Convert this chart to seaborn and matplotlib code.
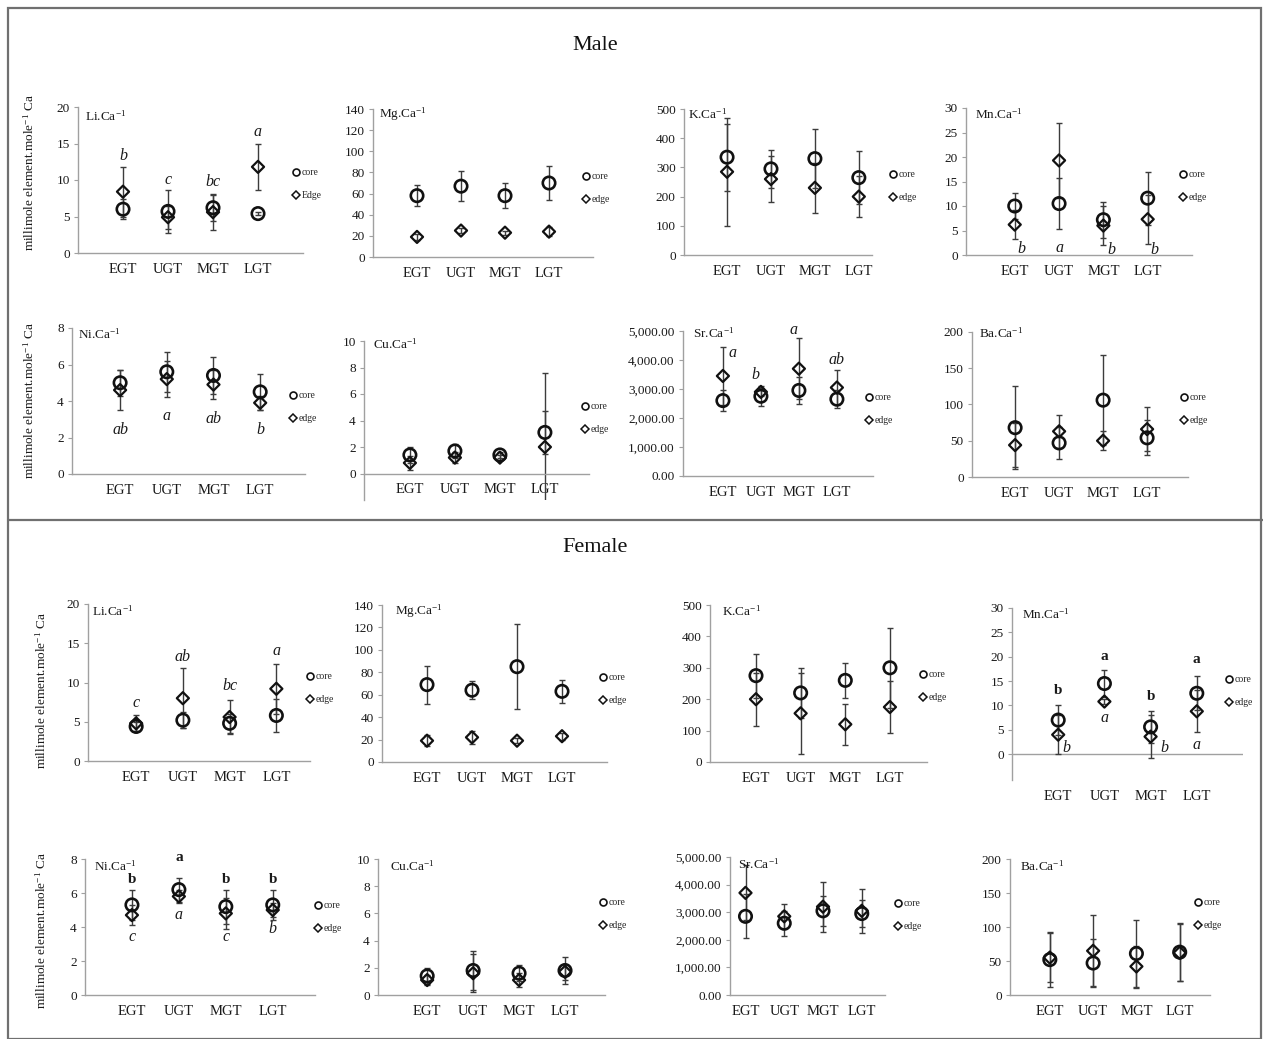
import numpy as np
import pandas as pd
import matplotlib
matplotlib.use("Agg")
import matplotlib.pyplot as plt
import seaborn as sns
from matplotlib.lines import Line2D
from matplotlib.patches import Rectangle
from matplotlib.ticker import FuncFormatter

sns.set_theme(style="white")
plt.rcParams["font.family"] = ["Liberation Serif", "DejaVu Serif"]
plt.rcParams["mathtext.fontset"] = "stix"

categories = ["EGT", "UGT", "MGT", "LGT"]

# ---------------- Male ----------------
m_li_core = [6.0, 5.7, 6.2, 5.4]; m_li_core_err = [1.4, 2.9, 1.8, 0.2]
m_li_edge = [8.4, 4.9, 5.6, 11.8]; m_li_edge_err = [3.4, 1.6, 2.5, 3.2]
m_li_letters = ["b", "c", "bc", "a"]; m_li_letter_y = [13.3, 10.0, 9.7, 16.6]

m_mg_core = [58, 67, 58, 70]; m_mg_core_err = [10, 14, 12, 16]
m_mg_edge = [19, 25, 23, 24]; m_mg_edge_err = [3, 2, 2, 4]

m_k_core = [335, 295, 330, 265]; m_k_core_err = [115, 65, 100, 90]
m_k_edge = [285, 260, 230, 200]; m_k_edge_err = [185, 80, 85, 70]

m_mn_core = [10.0, 10.5, 7.2, 11.6]; m_mn_core_err = [2.7, 5.2, 3.7, 5.4]
m_mn_edge = [6.2, 19.3, 6.0, 7.3]; m_mn_edge_err = [2.9, 7.7, 4.0, 5.0]
m_mn_letters = ["b", "a", "b", "b"]; m_mn_letter_y = [1.3, 1.4, 1.0, 1.0]
m_mn_letter_dx = [0.15, 0.0, 0.18, 0.16]

m_ni_core = [5.0, 5.6, 5.4, 4.5]; m_ni_core_err = [0.7, 1.1, 1.0, 1.0]
m_ni_edge = [4.6, 5.2, 4.9, 3.9]; m_ni_edge_err = [1.1, 1.0, 0.8, 0.4]
m_ni_letters = ["ab", "a", "ab", "b"]; m_ni_letter_y = [2.4, 3.2, 3.0, 2.4]

m_cu_core = [1.4, 1.7, 1.4, 3.1]; m_cu_core_err = [0.6, 0.5, 0.2, 1.6]
m_cu_edge = [0.8, 1.2, 1.2, 2.0]; m_cu_edge_err = [0.5, 0.4, 0.2, 5.6]

m_sr_core = [2600, 2750, 2950, 2650]; m_sr_core_err = [350, 350, 450, 300]
m_sr_edge = [3450, 2900, 3700, 3050]; m_sr_edge_err = [1000, 150, 1050, 600]
m_sr_letters = ["a", "b", "a", "ab"]; m_sr_letter_y = [4250, 3480, 5050, 4000]
m_sr_letter_dx = [0.26, -0.15, -0.15, 0.0]

m_ba_core = [68, 47, 106, 54]; m_ba_core_err = [57, 22, 62, 24]
m_ba_edge = [44, 63, 50, 66]; m_ba_edge_err = [30, 23, 13, 30]

# ---------------- Female ----------------
f_li_core = [4.4, 5.2, 4.8, 5.8]; f_li_core_err = [0.6, 1.0, 1.2, 2.1]
f_li_edge = [4.8, 8.0, 5.6, 9.2]; f_li_edge_err = [1.0, 3.8, 2.2, 3.2]
f_li_letters = ["c", "ab", "bc", "a"]; f_li_letter_y = [7.4, 13.3, 9.6, 14.0]

f_mg_core = [69, 64, 85, 63]; f_mg_core_err = [17, 8, 38, 10]
f_mg_edge = [19, 22, 19, 23]; f_mg_edge_err = [5, 6, 2, 3]

f_k_core = [275, 220, 260, 300]; f_k_core_err = [70, 80, 55, 128]
f_k_edge = [200, 155, 120, 175]; f_k_edge_err = [85, 130, 65, 82]

f_mn_core = [7.0, 14.5, 5.6, 12.5]; f_mn_core_err = [3.0, 2.7, 3.3, 3.5]
f_mn_edge = [4.0, 10.8, 3.6, 8.8]; f_mn_edge_err = [4.0, 0.5, 4.4, 4.3]
f_mn_letters_top = ["b", "a", "b", "a"]; f_mn_top_y = [13.0, 20.0, 11.8, 19.5]
f_mn_letters_low = ["b", "a", "b", "a"]; f_mn_low_y = [1.2, 7.4, 1.2, 1.8]
f_mn_low_dx = [0.17, 0.0, 0.3, 0.0]

f_ni_core = [5.3, 6.2, 5.2, 5.3]; f_ni_core_err = [0.9, 0.7, 1.0, 0.9]
f_ni_edge = [4.7, 5.8, 4.8, 5.0]; f_ni_edge_err = [0.6, 0.4, 0.9, 0.4]
f_ni_letters_top = ["b", "a", "b", "b"]; f_ni_top_y = [6.8, 8.1, 6.8, 6.8]
f_ni_letters_low = ["c", "a", "c", "b"]; f_ni_low_y = [3.4, 4.7, 3.4, 3.9]

f_cu_core = [1.4, 1.8, 1.6, 1.8]; f_cu_core_err = [0.6, 1.4, 0.6, 1.0]
f_cu_edge = [1.1, 1.6, 1.1, 1.7]; f_cu_edge_err = [0.4, 1.4, 0.5, 0.6]

f_sr_core = [2850, 2600, 3050, 2950]; f_sr_core_err = [800, 450, 550, 500]
f_sr_edge = [3700, 2850, 3200, 3050]; f_sr_edge_err = [1000, 450, 900, 800]

f_ba_core = [52, 47, 61, 63]; f_ba_core_err = [40, 35, 50, 43]
f_ba_edge = [55, 65, 42, 62]; f_ba_edge_err = [36, 52, 30, 42]

W, H = 1263, 1039
fig = plt.figure(figsize=(W / 100, H / 100), dpi=100)
fig.patch.set_facecolor("white")


def px_axes(L, R, top, bottom):
    return fig.add_axes([L / W, 1 - bottom / H, (R - L) / W, (bottom - top) / H])


def draw_panel(box, xlim, ylim, yticks, title, core, core_err, edge, edge_err,
               legend_xy, legend_labels=("core", "edge"), fmt=None,
               zero_spine=False, zero_line=False, title_off=(7, -7)):
    ax = px_axes(*box)
    ax.set_facecolor("white")
    x = list(range(len(categories)))
    df = pd.DataFrame({
        "x": x + x,
        "val": list(core) + list(edge),
        "err": list(core_err) + list(edge_err),
        "series": ["core"] * 4 + ["edge"] * 4,
    })
    ax.errorbar(df["x"], df["val"], yerr=df["err"], fmt="none", ecolor="#3c3c3c",
                elinewidth=1.0, capsize=2.3, capthick=1.0, zorder=1)
    sns.scatterplot(data=df[df.series == "core"], x="x", y="val", marker="o", s=80,
                    facecolor="none", edgecolor="#111111", linewidth=1.9, ax=ax,
                    zorder=3, legend=False)
    sns.scatterplot(data=df[df.series == "edge"], x="x", y="val", marker="D", s=38,
                    facecolor="none", edgecolor="#111111", linewidth=1.6, ax=ax,
                    zorder=4, legend=False)
    ax.set_xlim(*xlim)
    ax.set_ylim(*ylim)
    ax.set_yticks(yticks)
    if fmt is not None:
        ax.yaxis.set_major_formatter(FuncFormatter(fmt))
    ax.set_xticks(x)
    ax.set_xticklabels(categories)
    ax.set_xlabel("")
    ax.set_ylabel("")
    for s in ["top", "right"]:
        ax.spines[s].set_visible(False)
    for s in ["left", "bottom"]:
        ax.spines[s].set_color("#a0a0a0")
        ax.spines[s].set_linewidth(1.0)
    if zero_spine:
        ax.spines["bottom"].set_position(("data", 0))
    if zero_line:
        ax.spines["bottom"].set_visible(False)
        ax.axhline(0, color="#a0a0a0", lw=1.0, zorder=0)
    ax.tick_params(axis="y", which="both", left=True, length=3, width=0.8,
                   color="#a0a0a0", labelsize=9.5, pad=3)
    ax.tick_params(axis="x", which="both", bottom=False, length=0, labelsize=10.5, pad=7)
    for lab in ax.get_xticklabels() + ax.get_yticklabels():
        lab.set_color("#1a1a1a")
    ax.annotate(title, xy=(0, 1), xycoords="axes fraction",
                xytext=(title_off[0] * 0.72, title_off[1] * 0.72), textcoords="offset points",
                ha="left", va="center", fontsize=9.5, color="#1a1a1a")
    handles = [
        Line2D([], [], ls="none", marker="o", markersize=5, markerfacecolor="none",
               markeredgecolor="#111111", markeredgewidth=1.2),
        Line2D([], [], ls="none", marker="D", markersize=3.8, markerfacecolor="none",
               markeredgecolor="#111111", markeredgewidth=1.1),
    ]
    ax.legend(handles, list(legend_labels), loc="upper left",
              bbox_to_anchor=(legend_xy[0] / W, 1 - legend_xy[1] / H),
              bbox_transform=fig.transFigure, frameon=False, fontsize=7,
              handlelength=0.6, handletextpad=0.25, labelspacing=1.45,
              borderpad=0, borderaxespad=0)
    return ax


def letters(ax, labels, ys, dx=None, italic=True, bold=False, size=11.5):
    if dx is None:
        dx = [0.0] * len(labels)
    for i, (lab, y, d) in enumerate(zip(labels, ys, dx)):
        ax.text(i + d, y, lab, ha="center", va="center", fontsize=size,
                style="italic" if italic else "normal",
                fontweight="bold" if bold else "normal", color="#1a1a1a")


def sr_fmt(v, pos):
    return f"{v:,.2f}"


T = r"$^{\mathregular{-1}}$"

# ---------------- Male panels ----------------
ax = draw_panel((78, 303, 107, 253), (-1.0, 4.0), (0, 20), range(0, 21, 5), "Li.Ca" + T,
                m_li_core, m_li_core_err, m_li_edge, m_li_edge_err, (293, 168),
                legend_labels=("core", "Edge"), title_off=(7, -10))
letters(ax, m_li_letters, m_li_letter_y)

draw_panel((373, 593, 109, 257), (-1.0, 4.0), (0, 140), range(0, 141, 20), "Mg.Ca" + T,
           m_mg_core, m_mg_core_err, m_mg_edge, m_mg_edge_err, (583, 172), title_off=(6, -6))

draw_panel((684, 872, 109, 255), (-0.98, 3.3), (0, 500), range(0, 501, 100), "K.Ca" + T,
           m_k_core, m_k_core_err, m_k_edge, m_k_edge_err, (890, 170), title_off=(4, -6))

ax = draw_panel((966, 1192, 108, 255), (-1.1, 4.0), (0, 30), range(0, 31, 5), "Mn.Ca" + T,
                m_mn_core, m_mn_core_err, m_mn_edge, m_mn_edge_err, (1180, 170),
                title_off=(9, -7))
letters(ax, m_mn_letters, m_mn_letter_y, dx=m_mn_letter_dx)

ax = draw_panel((72, 305, 328, 474), (-1.03, 3.96), (0, 8), range(0, 9, 2), "Ni.Ca" + T,
                m_ni_core, m_ni_core_err, m_ni_edge, m_ni_edge_err, (290, 391),
                title_off=(6, -7))
letters(ax, m_ni_letters, m_ni_letter_y)

draw_panel((364, 589, 341, 500), (-1.02, 3.98), (-2, 10), range(0, 11, 2), "Cu.Ca" + T,
           m_cu_core, m_cu_core_err, m_cu_edge, m_cu_edge_err, (582, 402), zero_spine=True,
           title_off=(9, -4))

ax = draw_panel((683, 873, 331, 476), (-1.05, 3.95), (0, 5000), range(0, 5001, 1000), "Sr.Ca" + T,
                m_sr_core, m_sr_core_err, m_sr_edge, m_sr_edge_err, (866, 393), fmt=sr_fmt,
                title_off=(10, -3))
letters(ax, m_sr_letters, m_sr_letter_y, dx=m_sr_letter_dx)

draw_panel((972, 1188, 332, 477), (-0.98, 3.93), (0, 200), range(0, 201, 50), "Ba.Ca" + T,
           m_ba_core, m_ba_core_err, m_ba_edge, m_ba_edge_err, (1181, 393), title_off=(7, -2))

# ---------------- Female panels ----------------
ax = draw_panel((88, 310, 604, 761), (-1.03, 3.72), (0, 20), range(0, 21, 5), "Li.Ca" + T,
                f_li_core, f_li_core_err, f_li_edge, f_li_edge_err, (307, 672),
                title_off=(4, -8))
letters(ax, f_li_letters, f_li_letter_y)

draw_panel((382, 607, 605, 762), (-1.0, 4.0), (0, 140), range(0, 141, 20), "Mg.Ca" + T,
           f_mg_core, f_mg_core_err, f_mg_edge, f_mg_edge_err, (600, 673), title_off=(13, -7))

draw_panel((710, 927, 605, 762), (-1.03, 3.83), (0, 500), range(0, 501, 100), "K.Ca" + T,
           f_k_core, f_k_core_err, f_k_edge, f_k_edge_err, (920, 670), title_off=(12, -7))

ax = draw_panel((1012, 1243, 608, 780), (-1.0, 4.0), (-5.3, 30), range(0, 31, 5), "Mn.Ca" + T,
                f_mn_core, f_mn_core_err, f_mn_edge, f_mn_edge_err, (1226, 675), zero_line=True,
                title_off=(10, -7))
letters(ax, f_mn_letters_top, f_mn_top_y, italic=False, bold=True, size=11)
letters(ax, f_mn_letters_low, f_mn_low_y, dx=f_mn_low_dx)

ax = draw_panel((85, 315, 859, 995), (-1.0, 3.9), (0, 8), range(0, 9, 2), "Ni.Ca" + T,
                f_ni_core, f_ni_core_err, f_ni_edge, f_ni_edge_err, (315, 901),
                title_off=(9, -8))
letters(ax, f_ni_letters_top, f_ni_top_y, italic=False, bold=True, size=11)
letters(ax, f_ni_letters_low, f_ni_low_y)

draw_panel((378, 605, 859, 995), (-1.07, 3.87), (0, 10), range(0, 11, 2), "Cu.Ca" + T,
           f_cu_core, f_cu_core_err, f_cu_edge, f_cu_edge_err, (600, 898), title_off=(12, -8))

draw_panel((730, 885, 857, 995), (-0.4, 3.6), (0, 5000), range(0, 5001, 1000), "Sr.Ca" + T,
           f_sr_core, f_sr_core_err, f_sr_edge, f_sr_edge_err, (895, 899), fmt=sr_fmt,
           title_off=(8, -8))

draw_panel((1010, 1210, 859, 995), (-0.92, 3.7), (0, 200), range(0, 201, 50), "Ba.Ca" + T,
           f_ba_core, f_ba_core_err, f_ba_edge, f_ba_edge_err, (1195, 898), title_off=(10, -8))

# ---------------- Titles, labels, frame ----------------
fig.text(595 / W, 1 - 45 / H, "Male", ha="center", va="center", fontsize=16, color="#111111")
fig.text(595 / W, 1 - 548 / H, "Female", ha="center", va="center", fontsize=16, color="#111111")

ylab = "millimole element.mole" + T + " Ca"
for (xp, yp) in [(30, 172), (30, 400), (42, 690), (42, 930)]:
    fig.text(xp / W, 1 - yp / H, ylab, rotation=90, ha="center", va="center",
             fontsize=9.5, color="#1a1a1a")

fig.add_artist(Rectangle((8 / W, 0.0), (W - 10) / W, 1 - 8 / H, transform=fig.transFigure,
                         fill=False, edgecolor="#707070", lw=1.6))
fig.add_artist(Line2D([8 / W, 1.0], [1 - 520 / H, 1 - 520 / H], transform=fig.transFigure,
                      color="#707070", lw=1.6))

fig.savefig("out.png", dpi=100, facecolor="white")
